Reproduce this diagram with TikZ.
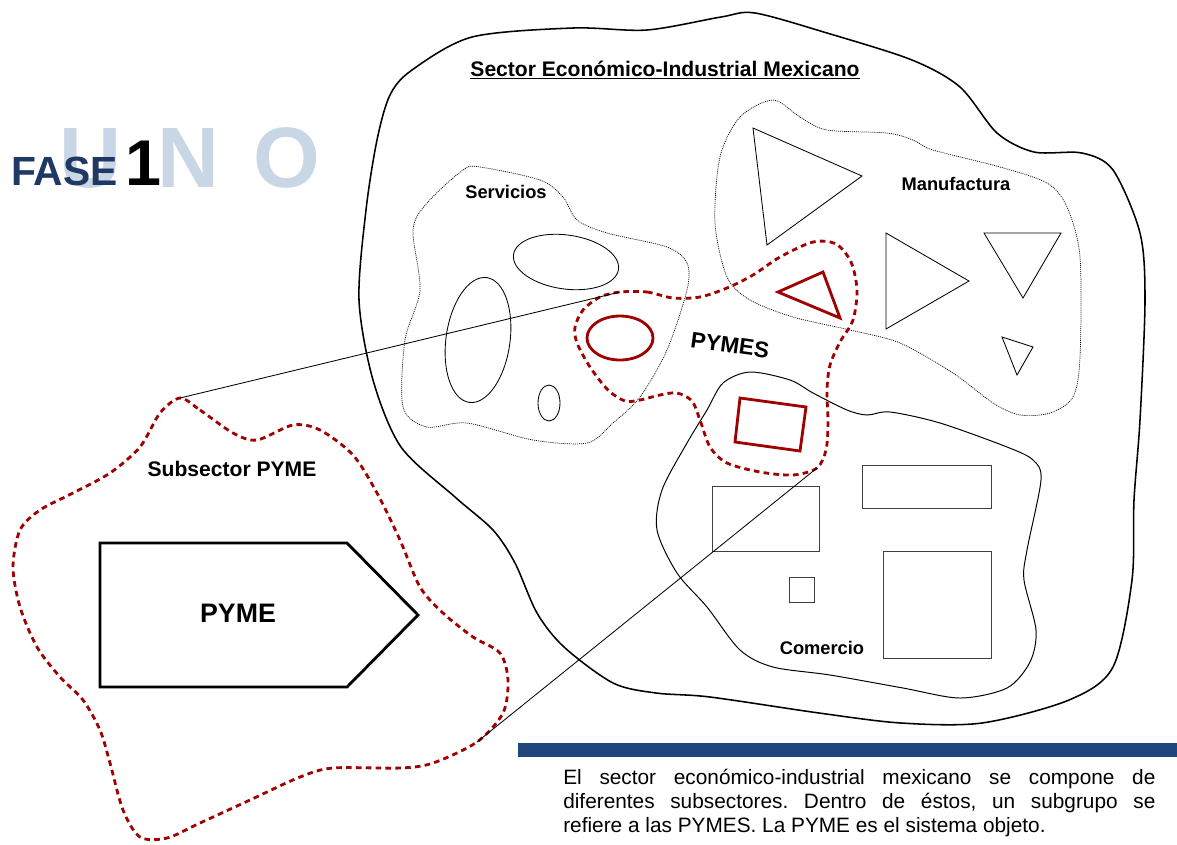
\documentclass[tikz,border=0pt]{standalone}
\usepackage{fontspec}
\setmainfont{Liberation Sans}
\usepackage{tikz}
\usetikzlibrary{positioning}

\definecolor{pymered}{RGB}{160,0,0}
\definecolor{faseblue}{RGB}{31,56,100}
\definecolor{unoblue}{RGB}{201,214,230}
\definecolor{barblue}{RGB}{31,71,125}

\begin{document}
\begin{tikzpicture}[x=0.025cm,y=-0.025cm,
  sector/.style={draw,line width=1.1pt},
  subsector/.style={draw,line width=0.5pt,dash pattern=on 0.7pt off 0.7pt},
  comercioline/.style={draw,line width=0.7pt},
  pymesline/.style={draw=pymered,line width=2pt,dash pattern=on 4pt off 3pt},
  pymeshape/.style={draw=pymered,line width=2pt},
  obj/.style={draw,line width=0.6pt},
  lbl/.style={font=\fontsize{13}{15}\selectfont\bfseries,inner sep=0pt},
  uno/.style={font=\fontsize{61}{61}\selectfont\bfseries,text=unoblue,anchor=base west,inner sep=0pt}]
\useasboundingbox (0,0) rectangle (1177,844);

% Define the end points of the zoom lines
\coordinate (SubTop) at (180,398);
\coordinate (SubBot) at (477,742);
\coordinate (PymesTop) at (620,292);
\coordinate (PymesBot) at (817,468);

% Draw the title letters
\foreach \l/\x in {U/59,N/157,O/253}{
  \node[uno] (uno\l) at (\x,187) {\l};
}
\node[font=\fontsize{29}{29}\selectfont\bfseries,text=faseblue,anchor=base west,inner sep=0pt] (fase) at (11,185) {FASE};
\node[font=\fontsize{46}{46}\selectfont\bfseries,anchor=base west,inner sep=0pt] (one) at (125,185) {1};

% Draw the outer sector
\draw[sector] plot[smooth cycle] coordinates {(390,95) (412,70) (472,37) (573,28) (647,30) (721,17) (755,13)
  (827,33) (912,60) (960,87) (997,133) (1034,152) (1082,153) (1113,170) (1140,233) (1145,300) (1140,420)
  (1134,500) (1132,580) (1113,667) (1069,700) (982,723) (901,723) (819,713) (710,697) (656,693) (613,683)
  (564,647) (537,613) (515,563) (493,530) (455,497) (401,447) (373,380) (359,300) (366,210) (377,140)};
\node[font=\fontsize{15}{17}\selectfont\bfseries,inner sep=0pt] (title) at (665,70) {\underline{Sector Económico-Industrial Mexicano}};

% Draw the subsectors
\draw[subsector] plot[smooth cycle] coordinates {(480,167) (540,180) (563,197) (577,220) (607,233) (667,247)
  (687,263) (687,290) (667,350) (640,397) (613,423) (587,443) (533,440) (467,423) (427,427) (403,407)
  (405,340) (420,290) (413,230) (427,203) (463,170)};
\draw[subsector] plot[smooth cycle] coordinates {(773,100) (800,117) (827,130) (887,133) (913,140) (933,150)
  (1000,167) (1047,183) (1067,207) (1080,257) (1080,357) (1073,397) (1050,413) (1020,415) (993,403) (953,373)
  (900,343) (850,330) (793,317) (750,300) (727,277) (715,223) (720,157) (740,117)};
\draw[comercioline] plot[smooth cycle] coordinates {(723,383) (750,372) (790,380) (813,393) (847,410) (867,415)
  (890,412) (940,423) (1007,447) (1033,460) (1041,480) (1027,550) (1024,580) (1036,630) (1030,662) (1007,688)
  (960,698) (903,688) (830,675) (773,667) (740,650) (707,607) (677,573) (657,530) (662,490) (687,443) (707,410)};
\node[lbl] (servicios) at (506,192) {Servicios};
\node[lbl] (manufactura) at (956,184) {Manufactura};
\node[lbl] (comercio) at (822,648) {Comercio};

% Draw the services
\draw[obj,rotate around={-8:(478,340)}] (478,340) ellipse [x radius=32, y radius=63];
\draw[obj,rotate around={-8:(566,262)}] (566,262) ellipse [x radius=53, y radius=27];
\draw[obj] (549,403) ellipse [x radius=11, y radius=18];

% Draw the manufacturing triangles
\draw[obj] (753,128) -- (862,176) -- (767,245) -- cycle;
\draw[obj] (886,233) -- (969,281) -- (886,329) -- cycle;
\draw[obj] (984,233) -- (1061,233) -- (1023,298) -- cycle;
\draw[obj] (1002,337) -- (1033,347) -- (1017,375) -- cycle;

% Draw the commerce rectangles
\draw[obj,draw=black!75] (712,486) rectangle (819,551);
\draw[obj,draw=black!75] (862,465) rectangle (991,508);
\draw[obj,draw=black!75] (789,577) rectangle (814,602);
\draw[obj,draw=black!75] (883,551) rectangle (991,658);

% Draw the PYMES
\draw[pymesline] plot[smooth cycle] coordinates {(PymesTop) (647,292) (673,298) (700,297) (727,288) (753,275)
  (780,257) (813,242) (836,244) (851,262) (857,290) (853,320) (840,342) (830,365) (827,390) (828,423)
  (826,450) (PymesBot) (793,475) (760,472) (727,463) (710,447) (700,420) (692,401) (677,393) (660,395)
  (640,400) (625,401) (608,390) (590,367) (577,343) (575,327) (583,310) (600,297)};
\draw[pymeshape] (620,338) ellipse [x radius=33, y radius=22];
\draw[pymeshape] (778,292) -- (823,272) -- (840,318) -- cycle;
\draw[pymeshape] (740,398) -- (806,407) -- (800,451) -- (735,442) -- cycle;
\node[font=\fontsize{16}{18}\selectfont\bfseries,rotate=-8,inner sep=0pt] (pymes) at (730,345) {PYMES};

% Draw the PYME subsector
\draw[pymesline] plot[smooth cycle] coordinates {(SubTop) (200,410) (233,433) (257,440) (293,425) (320,430)
  (353,455) (377,493) (400,540) (420,587) (443,613) (473,637) (500,653) (508,680) (503,713) (SubBot)
  (433,763) (400,768) (333,768) (300,777) (250,800) (200,823) (167,838) (140,837) (123,810) (110,763)
  (100,730) (83,700) (60,677) (37,647) (20,607) (13,567) (20,530) (40,510) (73,493) (110,473) (140,447)
  (160,413)};
\node[font=\fontsize{15}{17}\selectfont\bfseries,inner sep=0pt] (subsector) at (232,469) {Subsector PYME};
\draw[line width=2pt] (100,543) -- (347,543) -- (418,615) -- (347,687) -- (100,687) -- cycle;
\node[font=\fontsize{19}{21}\selectfont\bfseries,inner sep=0pt] (pyme) at (238,613) {PYME};

% Draw the zoom lines
\draw[line width=0.6pt] (SubTop) -- (PymesTop);
\draw[line width=0.6pt] (SubBot) -- (PymesBot);

% Draw the caption
\fill[barblue] (518,743) rectangle (1177,757);
\node[anchor=north west,inner sep=0pt,text width=14.8cm,align=justify,
  font=\fontsize{14.8}{17}\selectfont] (caption) at (563,769)
  {\frenchspacing\tolerance=10000 \hyphenpenalty=10000 El sector económico-industrial mexicano se compone de\linebreak diferentes subsectores. Dentro de éstos, un subgrupo se\linebreak refiere a las PYMES. La PYME es el sistema objeto.};
\end{tikzpicture}
\end{document}
